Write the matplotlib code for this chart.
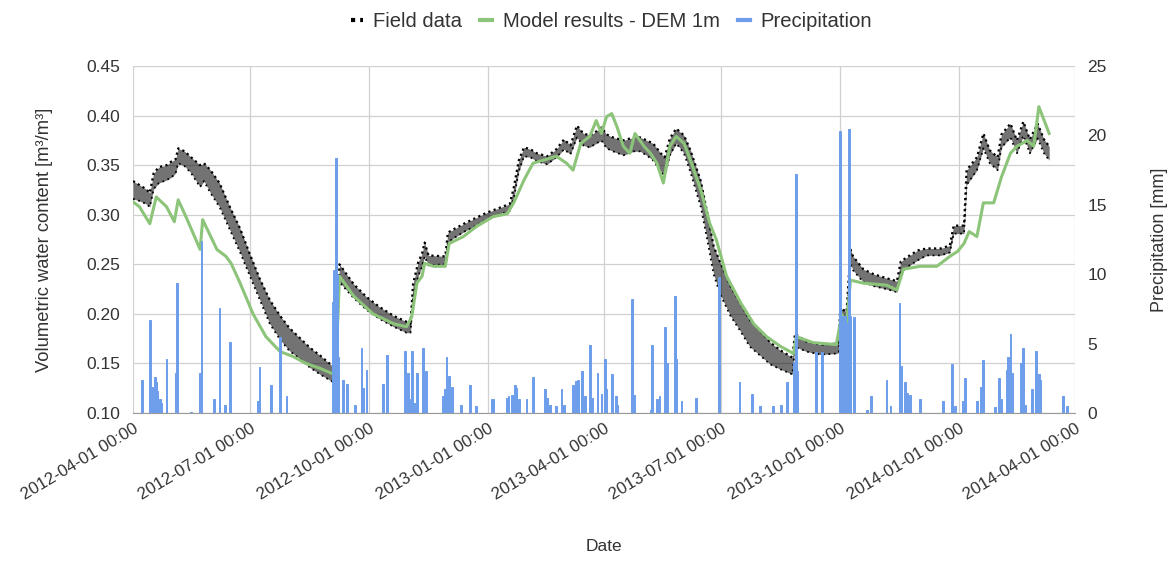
import numpy as np
import matplotlib
matplotlib.use("Agg")
import matplotlib.pyplot as plt
import matplotlib.dates as mdates
from matplotlib.lines import Line2D

plt.rcParams['font.family'] = ['Liberation Sans', 'DejaVu Sans']

start = np.datetime64('2012-04-01')

# field data: days since 2012-04-01, low and high of the daily scatter
field_day = [0, 5, 10, 13, 16, 20, 26, 30, 33, 35, 40, 45, 52, 55, 60, 67, 75, 83, 90, 98,
             106, 114, 121, 129, 137, 145, 154, 157, 160, 171, 181, 191, 202, 212, 215, 217,
             221, 224, 226, 229, 242, 244, 248, 258, 266, 274, 282, 292, 295, 299, 303, 308,
             313, 321, 328, 334, 339, 344, 349, 354, 359, 363, 367, 372, 380, 388, 393, 398,
             403, 409, 412, 416, 421, 427, 432, 440, 445, 450, 455, 463, 471, 478, 486, 494,
             502, 511, 513, 522, 533, 545, 547, 548, 553, 556, 558, 566, 574, 584, 592, 595,
             602, 608, 615, 626, 633, 636, 644, 646, 654, 659, 664, 670, 673, 680, 685, 690,
             695, 701, 706, 710]
field_lo = [.316, .314, .311, .308, .326, .332, .335, .338, .342, .352, .349, .342, .328, .334,
            .322, .308, .285, .262, .240, .215, .190, .174, .163, .155, .146, .139, .132, .130,
            .232, .216, .204, .195, .187, .181, .181, .215, .238, .248, .258, .249, .250, .272,
            .276, .284, .289, .295, .299, .304, .316, .344, .359, .358, .354, .351, .358, .366,
            .361, .378, .370, .368, .372, .375, .367, .364, .360, .364, .364, .360, .355, .344,
            .338, .360, .372, .362, .343, .308, .275, .240, .220, .198, .182, .167, .158, .149,
            .144, .139, .167, .162, .159, .160, .161, .194, .192, .250, .244, .232, .228, .225,
            .222, .242, .249, .254, .259, .259, .262, .281, .281, .330, .345, .367, .352, .345,
            .368, .378, .362, .380, .362, .377, .362, .355]
field_hi = [.334, .330, .326, .322, .342, .348, .350, .354, .356, .367, .364, .358, .350, .352,
            .345, .332, .308, .286, .262, .236, .214, .198, .186, .176, .166, .158, .148, .146,
            .250, .230, .217, .207, .198, .192, .190, .230, .252, .261, .272, .259, .258, .282,
            .285, .292, .297, .302, .306, .311, .327, .355, .368, .366, .362, .359, .366, .376,
            .370, .390, .382, .380, .384, .388, .381, .378, .375, .378, .378, .375, .372, .362,
            .358, .377, .387, .380, .365, .334, .302, .268, .252, .228, .210, .194, .183, .171,
            .163, .156, .180, .172, .169, .170, .171, .206, .202, .265, .258, .245, .240, .236,
            .233, .253, .259, .264, .266, .266, .269, .289, .289, .345, .358, .382, .365, .358,
            .381, .392, .375, .394, .376, .392, .376, .369]

# model results - DEM 1m
model_day = [0, 5, 13, 18, 26, 32, 35, 41, 52, 54, 65, 72, 76, 83, 93, 103, 114, 124, 134, 145,
             154, 157, 160, 171, 186, 202, 212, 216, 220, 224, 226, 233, 242, 245, 256, 266, 279,
             290, 295, 303, 310, 318, 328, 336, 341, 347, 354, 359, 363, 367, 371, 375, 380, 385,
             389, 396, 401, 406, 411, 416, 421, 427, 432, 440, 447, 452, 460, 471, 481, 491, 502,
             512, 514, 527, 545, 548, 549, 553, 556, 566, 584, 592, 597, 610, 623, 633, 639, 644,
             648, 654, 659, 667, 673, 680, 685, 693, 698, 702, 710]
model_vwc = [.313, .308, .291, .318, .308, .293, .315, .298, .265, .295, .265, .258, .251, .231,
             .200, .177, .162, .157, .150, .145, .140, .138, .238, .218, .200, .190, .187, .197,
             .231, .238, .251, .248, .248, .271, .278, .288, .298, .301, .312, .335, .352, .355,
             .359, .352, .345, .372, .379, .395, .382, .399, .402, .389, .369, .362, .382, .369,
             .362, .352, .332, .369, .379, .372, .355, .325, .291, .275, .238, .211, .190, .177,
             .167, .160, .177, .171, .169, .190, .200, .190, .234, .231, .229, .224, .245, .248,
             .248, .258, .263, .271, .283, .278, .312, .312, .338, .362, .369, .375, .369, .409,
             .382]

# daily precipitation [mm]
rain_day = [7, 13, 15, 17, 18, 19, 21, 22, 26, 33, 34, 45, 52, 53, 63, 67, 71, 75, 97, 98, 107,
            114, 119, 155, 156, 157, 158, 159, 163, 166, 172, 177, 178, 181, 194, 197, 211, 213,
            214, 216, 218, 220, 225, 227, 240, 242, 243, 245, 247, 254, 261, 266, 278, 279, 290,
            291, 294, 296, 297, 299, 305, 310, 319, 321, 323, 328, 332, 334, 341, 343, 345, 348,
            350, 354, 356, 360, 363, 366, 367, 371, 374, 375, 387, 388, 401, 402, 406, 408, 412,
            414, 420, 421, 425, 436, 454, 470, 480, 486, 496, 502, 507, 512, 513, 514, 515, 529,
            534, 548, 550, 552, 553, 555, 556, 559, 569, 572, 584, 587, 594, 595, 598, 600, 602,
            610, 628, 635, 637, 643, 645, 654, 657, 659, 668, 671, 673, 677, 678, 680, 681, 688,
            690, 691, 697, 700, 702, 703, 721, 724]
rain_mm = [2.4, 6.7, 1.9, 2.6, 2.2, 1.6, 1.0, 0.7, 3.9, 2.9, 9.4, 0.1, 2.9, 12.4, 1.0, 7.6, 0.6,
           5.1, 0.85, 3.3, 2.0, 5.5, 1.2, 8.0, 10.3, 18.4, 10.0, 4.0, 2.4, 2.1, 0.6, 4.7, 1.8,
           3.1, 2.1, 4.2, 4.5, 2.9, 1.0, 4.5, 0.7, 2.9, 4.7, 3.0, 1.2, 1.7, 4.0, 2.65, 1.9, 0.6,
           2.0, 0.5, 1.0, 1.0, 1.1, 1.2, 1.3, 2.0, 1.8, 1.0, 1.0, 2.6, 1.7, 1.1, 0.6, 0.5, 1.7,
           0.6, 2.0, 2.3, 2.4, 3.0, 1.2, 4.9, 1.1, 2.9, 1.4, 3.9, 1.7, 2.8, 1.2, 0.6, 8.2, 1.3,
           0.25, 4.9, 1.0, 1.2, 6.2, 3.6, 8.45, 3.9, 0.85, 1.1, 9.8, 2.2, 1.4, 0.5, 0.5, 0.6, 2.2,
           3.7, 3.7, 17.2, 3.0, 4.4, 4.4, 20.3, 7.0, 7.0, 6.5, 20.5, 7.0, 6.9, 0.25, 1.2, 2.4, 0.5,
           7.95, 3.4, 2.2, 1.45, 1.3, 1.0, 0.85, 3.5, 0.5, 0.85, 2.5, 0.85, 1.9, 3.85, 0.4, 2.5,
           1.0, 3.1, 4.0, 5.7, 2.9, 3.6, 4.7, 0.6, 1.7, 4.45, 2.8, 2.4, 1.2, 0.5]

tick_dates = ['2012-04-01', '2012-07-01', '2012-10-01', '2013-01-01', '2013-04-01',
              '2013-07-01', '2013-10-01', '2014-01-01', '2014-04-01']

green = '#8cc479'
blue = '#6d9eeb'
txt = '#333333'

def to_dates(days):
    return (start + np.array(days, dtype='timedelta64[D]')).astype('datetime64[s]').astype(object)

fig = plt.figure(figsize=(11.71, 5.66), dpi=100)
ax = fig.add_axes([0.1136, 0.2703, 0.8044, 0.613])
ax2 = ax.twinx()

fd = to_dates(field_day)
ax.fill_between(fd, field_lo, field_hi, color='black', alpha=0.55, linewidth=0, zorder=2)
ax.plot(fd, field_hi, color='black', linestyle=(0, (1, 1.5)), linewidth=1.6, zorder=3)
ax.plot(fd, field_lo, color='black', linestyle=(0, (1, 2)), linewidth=1.3, zorder=3)
ax.plot(to_dates(model_day), model_vwc, color=green, linewidth=2.2, zorder=4)

ax2.bar(to_dates(rain_day), rain_mm, width=1.4, color=blue, edgecolor=blue,
        linewidth=0.7, zorder=2)

ax.set_xlim(np.datetime64('2012-04-01').astype(object), np.datetime64('2014-04-01').astype(object))
ax.set_ylim(0.10, 0.45)
ax.set_yticks(np.arange(0.10, 0.451, 0.05))
ax.yaxis.set_major_formatter(plt.FormatStrFormatter('%.2f'))
ax2.set_ylim(0, 25)
ax2.set_yticks(range(0, 26, 5))

ax.set_xticks([np.datetime64(d).astype(object) for d in tick_dates])
ax.xaxis.set_major_formatter(mdates.DateFormatter('%Y-%m-%d %H:%M'))

ax.grid(True, color='#d0d0d0', linewidth=0.9)
ax.set_axisbelow(True)
for a in (ax, ax2):
    for s in a.spines.values():
        s.set_visible(False)
    a.tick_params(length=0, labelsize=12.5, colors=txt, pad=9)
ax.tick_params(axis='x', labelsize=12.2, pad=6)
for lbl in ax.get_xticklabels():
    lbl.set_rotation(31)
    lbl.set_ha('right')
    lbl.set_rotation_mode('anchor')
ax.spines['bottom'].set_visible(True)
ax.spines['bottom'].set_color('#999999')

ax.set_ylabel('Volumetric water content [m³/m³]', fontsize=13.2, color=txt, labelpad=24)
ax2.set_ylabel('Precipitation [mm]', fontsize=13, color=txt, labelpad=32)
ax.set_xlabel('Date', fontsize=12.5, color=txt, labelpad=26)

handles = [Line2D([], [], color='black', linestyle=(0, (1, 1.2)), linewidth=3),
           Line2D([], [], color=green, linewidth=3),
           Line2D([], [], color=blue, linewidth=3)]
fig.legend(handles, ['Field data', 'Model results - DEM 1m', 'Precipitation'],
           loc='center', bbox_to_anchor=(0.522, 0.962), ncol=3, frameon=False,
           handlelength=0.6, handletextpad=0.5, columnspacing=0.9,
           prop={'size': 14.6}, labelcolor=txt)

fig.savefig('out.png', dpi=100)
